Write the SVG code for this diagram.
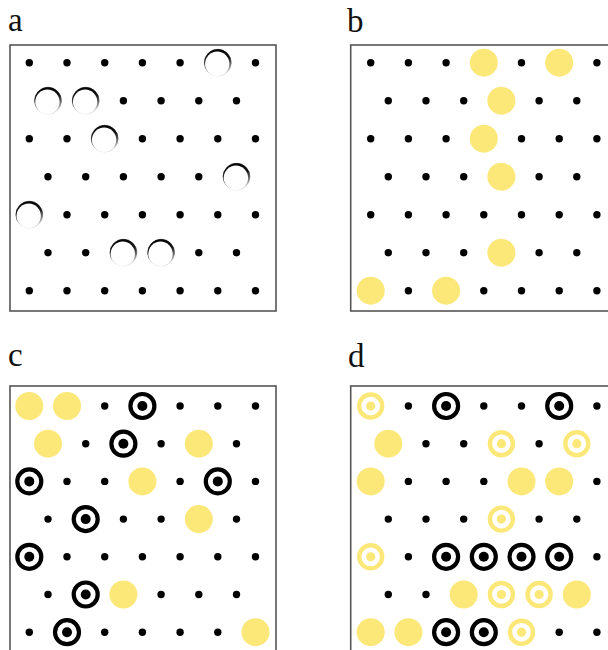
<svg xmlns="http://www.w3.org/2000/svg" xmlns:xlink="http://www.w3.org/1999/xlink" width="608" height="650" viewBox="0 0 608 650">
<style>
.lbl{font-family:"Liberation Serif","Times New Roman",serif;font-size:33px;fill:#111}
.box{fill:#fff;stroke:#555;stroke-width:1.6}
</style>
<defs>
<linearGradient id="holeG" x1="0" y1="0" x2="0.2" y2="1">
<stop offset="0" stop-color="#000"/><stop offset="0.45" stop-color="#111"/><stop offset="0.75" stop-color="#777"/><stop offset="1" stop-color="#ddd"/>
</linearGradient>
<g id="dot"><circle r="3.7" fill="#000"/></g>
<g id="hole"><circle r="13.4" fill="url(#holeG)" stroke="url(#holeG)" stroke-width="0.7"/><circle cx="-0.6" cy="1.1" r="12.2" fill="#fff"/></g>
<g id="yd"><circle r="14" fill="#fce878"/></g>
<g id="bt"><circle r="12" fill="#fff" stroke="#000" stroke-width="4.2"/><circle r="5" fill="#000"/></g>
<g id="yt"><circle r="11.5" fill="#fff" stroke="#fce878" stroke-width="4.4"/><circle r="4.6" fill="#fce878"/></g>
</defs>
<rect width="608" height="650" fill="#fff"/>
<text class="lbl" x="8" y="31">a</text>
<text class="lbl" x="347" y="32">b</text>
<text class="lbl" x="8" y="366">c</text>
<text class="lbl" x="348" y="367">d</text>
<g id="connectors"/>
<g id="panel-a">
<rect class="box" x="10" y="45" width="266" height="266"/>
<use href="#dot" x="29.3" y="62.7"/><use href="#dot" x="67" y="62.7"/><use href="#dot" x="104.7" y="62.7"/><use href="#dot" x="142.4" y="62.7"/><use href="#dot" x="180.1" y="62.7"/><use href="#hole" x="217.8" y="62.7"/><use href="#dot" x="255.5" y="62.7"/>
<use href="#hole" x="48" y="100.7"/><use href="#hole" x="85.7" y="100.7"/><use href="#dot" x="123.4" y="100.7"/><use href="#dot" x="161.1" y="100.7"/><use href="#dot" x="198.8" y="100.7"/><use href="#dot" x="236.5" y="100.7"/>
<use href="#dot" x="29.3" y="138.7"/><use href="#dot" x="67" y="138.7"/><use href="#hole" x="104.7" y="138.7"/><use href="#dot" x="142.4" y="138.7"/><use href="#dot" x="180.1" y="138.7"/><use href="#dot" x="217.8" y="138.7"/><use href="#dot" x="255.5" y="138.7"/>
<use href="#dot" x="48" y="176.7"/><use href="#dot" x="85.7" y="176.7"/><use href="#dot" x="123.4" y="176.7"/><use href="#dot" x="161.1" y="176.7"/><use href="#dot" x="198.8" y="176.7"/><use href="#hole" x="236.5" y="176.7"/>
<use href="#hole" x="29.3" y="214.7"/><use href="#dot" x="67" y="214.7"/><use href="#dot" x="104.7" y="214.7"/><use href="#dot" x="142.4" y="214.7"/><use href="#dot" x="180.1" y="214.7"/><use href="#dot" x="217.8" y="214.7"/><use href="#dot" x="255.5" y="214.7"/>
<use href="#dot" x="48" y="252.7"/><use href="#dot" x="85.7" y="252.7"/><use href="#hole" x="123.4" y="252.7"/><use href="#hole" x="161.1" y="252.7"/><use href="#dot" x="198.8" y="252.7"/><use href="#dot" x="236.5" y="252.7"/>
<use href="#dot" x="29.3" y="290.7"/><use href="#dot" x="67" y="290.7"/><use href="#dot" x="104.7" y="290.7"/><use href="#dot" x="142.4" y="290.7"/><use href="#dot" x="180.1" y="290.7"/><use href="#dot" x="217.8" y="290.7"/><use href="#dot" x="255.5" y="290.7"/>
</g>
<g id="panel-b">
<rect class="box" x="350.7" y="45" width="300" height="266"/>
<use href="#dot" x="370.7" y="62.7"/><use href="#dot" x="408.4" y="62.7"/><use href="#dot" x="446.1" y="62.7"/><use href="#yd" x="483.8" y="62.7"/><use href="#dot" x="521.5" y="62.7"/><use href="#yd" x="559.2" y="62.7"/><use href="#dot" x="596.9" y="62.7"/>
<use href="#dot" x="388.3" y="100.7"/><use href="#dot" x="426" y="100.7"/><use href="#dot" x="463.7" y="100.7"/><use href="#yd" x="501.4" y="100.7"/><use href="#dot" x="539.1" y="100.7"/><use href="#dot" x="576.8" y="100.7"/>
<use href="#dot" x="370.7" y="138.7"/><use href="#dot" x="408.4" y="138.7"/><use href="#dot" x="446.1" y="138.7"/><use href="#yd" x="483.8" y="138.7"/><use href="#dot" x="521.5" y="138.7"/><use href="#dot" x="559.2" y="138.7"/><use href="#dot" x="596.9" y="138.7"/>
<use href="#dot" x="388.3" y="176.7"/><use href="#dot" x="426" y="176.7"/><use href="#dot" x="463.7" y="176.7"/><use href="#yd" x="501.4" y="176.7"/><use href="#dot" x="539.1" y="176.7"/><use href="#dot" x="576.8" y="176.7"/>
<use href="#dot" x="370.7" y="214.7"/><use href="#dot" x="408.4" y="214.7"/><use href="#dot" x="446.1" y="214.7"/><use href="#dot" x="483.8" y="214.7"/><use href="#dot" x="521.5" y="214.7"/><use href="#dot" x="559.2" y="214.7"/><use href="#dot" x="596.9" y="214.7"/>
<use href="#dot" x="388.3" y="252.7"/><use href="#dot" x="426" y="252.7"/><use href="#dot" x="463.7" y="252.7"/><use href="#yd" x="501.4" y="252.7"/><use href="#dot" x="539.1" y="252.7"/><use href="#dot" x="576.8" y="252.7"/>
<use href="#yd" x="370.7" y="290.7"/><use href="#dot" x="408.4" y="290.7"/><use href="#yd" x="446.1" y="290.7"/><use href="#dot" x="483.8" y="290.7"/><use href="#dot" x="521.5" y="290.7"/><use href="#dot" x="559.2" y="290.7"/><use href="#dot" x="596.9" y="290.7"/>
</g>
<g id="panel-c">
<rect class="box" x="10" y="386" width="266" height="300"/>
<use href="#yd" x="29.3" y="406"/><use href="#yd" x="67" y="406"/><use href="#dot" x="104.7" y="406"/><use href="#bt" x="142.4" y="406"/><use href="#dot" x="180.1" y="406"/><use href="#dot" x="217.8" y="406"/><use href="#dot" x="255.5" y="406"/>
<use href="#yd" x="48" y="443.7"/><use href="#dot" x="85.7" y="443.7"/><use href="#bt" x="123.4" y="443.7"/><use href="#dot" x="161.1" y="443.7"/><use href="#yd" x="198.8" y="443.7"/><use href="#dot" x="236.5" y="443.7"/>
<use href="#bt" x="29.3" y="481.4"/><use href="#dot" x="67" y="481.4"/><use href="#dot" x="104.7" y="481.4"/><use href="#yd" x="142.4" y="481.4"/><use href="#dot" x="180.1" y="481.4"/><use href="#bt" x="217.8" y="481.4"/><use href="#dot" x="255.5" y="481.4"/>
<use href="#dot" x="48" y="519.1"/><use href="#bt" x="85.7" y="519.1"/><use href="#dot" x="123.4" y="519.1"/><use href="#dot" x="161.1" y="519.1"/><use href="#yd" x="198.8" y="519.1"/><use href="#dot" x="236.5" y="519.1"/>
<use href="#bt" x="29.3" y="556.8"/><use href="#dot" x="67" y="556.8"/><use href="#dot" x="104.7" y="556.8"/><use href="#dot" x="142.4" y="556.8"/><use href="#dot" x="180.1" y="556.8"/><use href="#dot" x="217.8" y="556.8"/><use href="#dot" x="255.5" y="556.8"/>
<use href="#dot" x="48" y="594.5"/><use href="#bt" x="85.7" y="594.5"/><use href="#yd" x="123.4" y="594.5"/><use href="#dot" x="161.1" y="594.5"/><use href="#dot" x="198.8" y="594.5"/><use href="#dot" x="236.5" y="594.5"/>
<use href="#dot" x="29.3" y="632.2"/><use href="#bt" x="67" y="632.2"/><use href="#dot" x="104.7" y="632.2"/><use href="#dot" x="142.4" y="632.2"/><use href="#dot" x="180.1" y="632.2"/><use href="#dot" x="217.8" y="632.2"/><use href="#yd" x="255.5" y="632.2"/>
</g>
<g id="panel-d">
<rect class="box" x="350.7" y="386" width="300" height="300"/>
<use href="#yt" x="370.7" y="406"/><use href="#dot" x="408.4" y="406"/><use href="#bt" x="446.1" y="406"/><use href="#dot" x="483.8" y="406"/><use href="#dot" x="521.5" y="406"/><use href="#bt" x="559.2" y="406"/><use href="#dot" x="596.9" y="406"/>
<use href="#yd" x="388.3" y="443.7"/><use href="#dot" x="426" y="443.7"/><use href="#dot" x="463.7" y="443.7"/><use href="#yt" x="501.4" y="443.7"/><use href="#dot" x="539.1" y="443.7"/><use href="#yt" x="576.8" y="443.7"/>
<use href="#yd" x="370.7" y="481.4"/><use href="#dot" x="408.4" y="481.4"/><use href="#dot" x="446.1" y="481.4"/><use href="#dot" x="483.8" y="481.4"/><use href="#yd" x="521.5" y="481.4"/><use href="#yd" x="559.2" y="481.4"/><use href="#dot" x="596.9" y="481.4"/>
<use href="#dot" x="388.3" y="519.1"/><use href="#dot" x="426" y="519.1"/><use href="#dot" x="463.7" y="519.1"/><use href="#yt" x="501.4" y="519.1"/><use href="#dot" x="539.1" y="519.1"/><use href="#dot" x="576.8" y="519.1"/>
<use href="#yt" x="370.7" y="556.8"/><use href="#dot" x="408.4" y="556.8"/><use href="#bt" x="446.1" y="556.8"/><use href="#bt" x="483.8" y="556.8"/><use href="#bt" x="521.5" y="556.8"/><use href="#bt" x="559.2" y="556.8"/><use href="#dot" x="596.9" y="556.8"/>
<use href="#dot" x="388.3" y="594.5"/><use href="#dot" x="426" y="594.5"/><use href="#yd" x="463.7" y="594.5"/><use href="#yt" x="501.4" y="594.5"/><use href="#yt" x="539.1" y="594.5"/><use href="#yd" x="576.8" y="594.5"/>
<use href="#yd" x="370.7" y="632.2"/><use href="#yd" x="408.4" y="632.2"/><use href="#bt" x="446.1" y="632.2"/><use href="#bt" x="483.8" y="632.2"/><use href="#yt" x="521.5" y="632.2"/><use href="#dot" x="559.2" y="632.2"/><use href="#dot" x="596.9" y="632.2"/>
</g>
</svg>
